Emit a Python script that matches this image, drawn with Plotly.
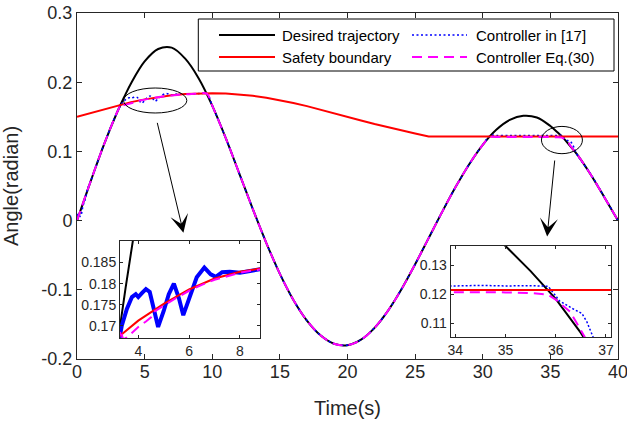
import plotly.graph_objects as go

# ---------------- data ----------------
t_desired = [0, 1, 2, 3, 3.5, 4, 5, 6, 7, 8, 9, 10, 11, 12, 13, 14, 15, 16, 17, 18, 19, 20,
             21, 22, 23, 24, 25, 26, 27, 28, 29, 30, 31, 32, 33, 34, 35, 35.5, 36, 36.5, 37,
             38, 39, 40]
y_desired = [0, 0.0563, 0.1103, 0.1580, 0.1790, 0.1985, 0.2300, 0.2480, 0.2500, 0.2340,
             0.2055, 0.1662, 0.1191, 0.0680, 0.0166, -0.0324, -0.0769, -0.1146, -0.1445,
             -0.1657, -0.1779, -0.1800, -0.1721, -0.1550, -0.1300, -0.0988, -0.0631,
             -0.0253, 0.0126, 0.0488, 0.0815, 0.1096, 0.1313, 0.1455, 0.1515, 0.1490,
             0.1366, 0.1280, 0.1185, 0.1068, 0.0950, 0.0660, 0.0335, 0]

t_boundary = [0, 1, 2, 3, 4, 5, 6, 7, 8, 9, 10, 11, 12, 13, 14, 15, 16, 17, 18, 19, 20,
              21, 22, 23, 24, 25, 26, 40]
y_boundary = [0.1500, 0.1555, 0.1608, 0.1662, 0.1712, 0.1752, 0.1786, 0.1812, 0.1828,
              0.1838, 0.1840, 0.1836, 0.1823, 0.1803, 0.1775, 0.1740, 0.1700, 0.1654,
              0.1605, 0.1553, 0.1500, 0.1447, 0.1395, 0.1346, 0.1300, 0.1258, 0.1215,
              0.1215]

t_ctrl17 = [0, 0.1, 0.25, 0.45, 0.6, 0.8, 1, 2, 3, 3.35, 3.55, 3.75, 3.9, 4.0, 4.15, 4.3,
            4.45, 4.6, 4.78, 5.0, 5.2, 5.4, 5.6, 5.77, 6.0, 6.3, 6.6, 6.85, 7.05, 7.3, 7.6,
            8.0, 8.4, 8.8, 9.2, 9.6, 10, 11, 12, 13, 14, 15, 16, 17, 18, 19, 20, 21, 22,
            23, 24, 25, 26, 27, 28, 29, 30, 30.57, 31, 32, 33, 34, 34.5, 35, 35.5, 35.85,
            36.08, 36.35, 36.52, 36.62, 36.72, 36.85, 37, 38, 39, 40]
y_ctrl17 = [0, 0.0100, 0.0060, 0.0220, 0.0300, 0.0470, 0.0563, 0.1103, 0.1580, 0.1700,
            0.1740, 0.1768, 0.1775, 0.1768, 0.1778, 0.1787, 0.1780, 0.1740, 0.1697,
            0.1735, 0.1775, 0.1800, 0.1765, 0.1725, 0.1765, 0.1815, 0.1838, 0.1822,
            0.1816, 0.1827, 0.1828, 0.1826, 0.1830, 0.1834, 0.1838, 0.1836, 0.1662,
            0.1191, 0.0680, 0.0166, -0.0324, -0.0769, -0.1146, -0.1445, -0.1657,
            -0.1779, -0.1800, -0.1721, -0.1550, -0.1300, -0.0988, -0.0631, -0.0253,
            0.0126, 0.0488, 0.0815, 0.1096, 0.1229, 0.1229, 0.1228, 0.1230, 0.1229,
            0.1231, 0.1229, 0.1230, 0.1228, 0.1177, 0.1150, 0.1135, 0.1106, 0.1066,
            0.1005, 0.0945, 0.0665, 0.0340, 0]

t_ctrl30 = [0, 1, 2, 3, 3.3, 3.4, 3.5, 3.7, 4.0, 4.3, 4.5, 4.58, 5, 5.5, 6, 6.5, 7, 7.5,
            8, 8.5, 9, 9.6, 10, 11, 12, 13, 14, 15, 16, 17, 18, 19, 20, 21, 22, 23, 24,
            25, 26, 27, 28, 29, 30, 30.55, 31, 32, 33, 34, 35, 35.5, 35.85, 36.0, 36.29,
            36.49, 37, 38, 39, 40]
y_ctrl30 = [0, 0.0563, 0.1103, 0.1580, 0.1690, 0.1668, 0.1670, 0.1680, 0.1697, 0.1710,
            0.1720, 0.1732, 0.1748, 0.1766, 0.1783, 0.1797, 0.1809, 0.1818, 0.1826,
            0.1831, 0.1835, 0.1834, 0.1662, 0.1191, 0.0680, 0.0166, -0.0324, -0.0769,
            -0.1146, -0.1445, -0.1657, -0.1779, -0.1800, -0.1721, -0.1550, -0.1300,
            -0.0988, -0.0631, -0.0253, 0.0126, 0.0488, 0.0815, 0.1096, 0.1208, 0.1208,
            0.1208, 0.1208, 0.1208, 0.1207, 0.1205, 0.1199, 0.1182, 0.1140, 0.1080,
            0.0950, 0.0660, 0.0335, 0]

x_ticks = [0, 5, 10, 15, 20, 25, 30, 35, 40]
y_ticks = [-0.2, -0.1, 0, 0.1, 0.2, 0.3]
y_ticklabels = ["-0.2", "-0.1", "0", "0.1", "0.2", "0.3"]
inset1_xticks = [4, 6, 8]
inset1_yticks = [0.17, 0.175, 0.18, 0.185]
inset1_yticklabels = ["0.17", "0.175", "0.18", "0.185"]
inset2_xticks = [34, 35, 36, 37]
inset2_yticks = [0.11, 0.12, 0.13]
inset2_yticklabels = ["0.11", "0.12", "0.13"]

names = ["Desired trajectory", "Safety boundary", "Controller in [17]", "Controller Eq.(30)"]

# ---------------- layout helpers ----------------
W, H = 627, 424
L, R, T, B = 77, 618, 13, 359
def px(x):
    return (x - L) / (R - L)
def py(y):
    return (B - y) / (B - T)

FONT = "Liberation Sans, Arial, Helvetica, sans-serif"
AX = "#262626"
BLUE = "#0000ff"
MAG = "#ff00ff"

fig = go.Figure()

def add_set(xa, ya, spline, w_blue, blue_dash):
    shape = "spline" if spline else "linear"
    fig.add_trace(go.Scatter(x=t_desired, y=y_desired, mode="lines", xaxis=xa, yaxis=ya,
                             line=dict(color="black", width=2, shape=shape), showlegend=False))
    fig.add_trace(go.Scatter(x=t_ctrl17, y=y_ctrl17, mode="lines", xaxis=xa, yaxis=ya,
                             line=dict(color=BLUE, width=w_blue, dash=blue_dash,
                                       shape=shape), showlegend=False))
    fig.add_trace(go.Scatter(x=t_boundary, y=y_boundary, mode="lines", xaxis=xa, yaxis=ya,
                             line=dict(color="red", width=2), showlegend=False))
    fig.add_trace(go.Scatter(x=t_ctrl30, y=y_ctrl30, mode="lines", xaxis=xa, yaxis=ya,
                             line=dict(color=MAG, width=2, dash="10px,6px", shape=shape),
                             showlegend=False))

add_set("x", "y", True, 1.6, "2px,2.5px")
add_set("x2", "y2", False, 4, "solid")
add_set("x3", "y3", False, 1.5, "2px,2px")

def axis_common(size, ticklen):
    return dict(showline=True, linecolor=AX, linewidth=1, mirror="ticks", ticks="inside",
                ticklen=ticklen, tickcolor=AX, tickwidth=1, showgrid=False, zeroline=False,
                automargin=False, ticklabeloverflow="allow",
                tickfont=dict(family=FONT, size=size, color=AX))

layout = dict(
    width=W, height=H,
    margin=dict(l=L, r=W - R, t=T, b=H - B, autoexpand=False),
    paper_bgcolor="white", plot_bgcolor="white",
    showlegend=False,
    xaxis=dict(domain=[0, 1], range=[0, 40], tickvals=x_ticks, anchor="y",
               ticklabelstandoff=-4,
               title=dict(text="Time(s)", font=dict(family=FONT, size=20, color=AX), standoff=20),
               **axis_common(18, 5)),
    yaxis=dict(domain=[0, 1], range=[-0.2, 0.3], tickvals=y_ticks, ticktext=y_ticklabels,
               anchor="x",
               title=dict(text="Angle(radian)", font=dict(family=FONT, size=20, color=AX), standoff=18),
               **axis_common(18, 5)),
    xaxis2=dict(domain=[px(120), px(260)], range=[3.28, 8.79], tickvals=inset1_xticks,
                anchor="y2", **axis_common(14, 3)),
    yaxis2=dict(domain=[py(338.3), py(240.7)], range=[0.167, 0.1902], tickvals=inset1_yticks,
                ticktext=inset1_yticklabels, anchor="x2", **axis_common(14, 3)),
    xaxis3=dict(domain=[px(450.7), px(611)], range=[33.91, 37.1], tickvals=inset2_xticks,
                anchor="y3", **axis_common(14, 3)),
    yaxis3=dict(domain=[py(337.3), py(246)], range=[0.1053, 0.1366], tickvals=inset2_yticks,
                ticktext=inset2_yticklabels, anchor="x3", **axis_common(14, 3)),
)
fig.update_layout(**layout)

shapes = []
# zoom ellipses
shapes.append(dict(type="circle", xref="x", yref="y", x0=3.44, x1=8.12, y0=0.1555, y1=0.1916,
                   line=dict(color="black", width=1)))
shapes.append(dict(type="circle", xref="x", yref="y", x0=34.34, x1=37.37, y0=0.0967, y1=0.1361,
                   line=dict(color="black", width=1)))
# legend box
shapes.append(dict(type="rect", xref="paper", yref="paper", x0=px(198.3), x1=px(614),
                   y0=py(71), y1=py(19), line=dict(color="black", width=1), fillcolor="white"))
legend_rows = [35, 57]
legend_cols = [(219, 275, 280), (412, 467, 474)]
legend_styles = [
    (names[0], 0, 0, dict(color="black", width=2)),
    (names[2], 0, 1, dict(color=BLUE, width=1.6, dash="2px,2.5px")),
    (names[1], 1, 0, dict(color="red", width=2)),
    (names[3], 1, 1, dict(color=MAG, width=2, dash="10px,6px")),
]
annotations = []
for name, r, c, ln in legend_styles:
    x0, x1, xt = legend_cols[c]
    yy = py(legend_rows[r])
    shapes.append(dict(type="line", xref="paper", yref="paper", x0=px(x0), x1=px(x1),
                       y0=yy, y1=yy, line=ln))
    annotations.append(dict(xref="paper", yref="paper", x=px(xt), y=yy, xanchor="left",
                            yanchor="middle", text=name, showarrow=False,
                            font=dict(family=FONT, size=15, color="black")))
# arrows
annotations.append(dict(xref="x", yref="y", axref="x", ayref="y", x=7.87, y=-0.0175,
                         ax=5.91, ay=0.1434, text="", showarrow=True, arrowhead=3,
                         arrowsize=3, arrowwidth=1, arrowcolor="black"))
annotations.append(dict(xref="x", yref="y", axref="x", ayref="y", x=34.76, y=-0.0228,
                        ax=35.33, ay=0.089, text="", showarrow=True, arrowhead=3,
                        arrowsize=3, arrowwidth=1, arrowcolor="black"))
fig.update_layout(shapes=shapes, annotations=annotations)

fig.write_html("out.html", config={"displayModeBar": False},
               post_script="document.body.style.margin='0px';document.body.style.padding='0px';")
